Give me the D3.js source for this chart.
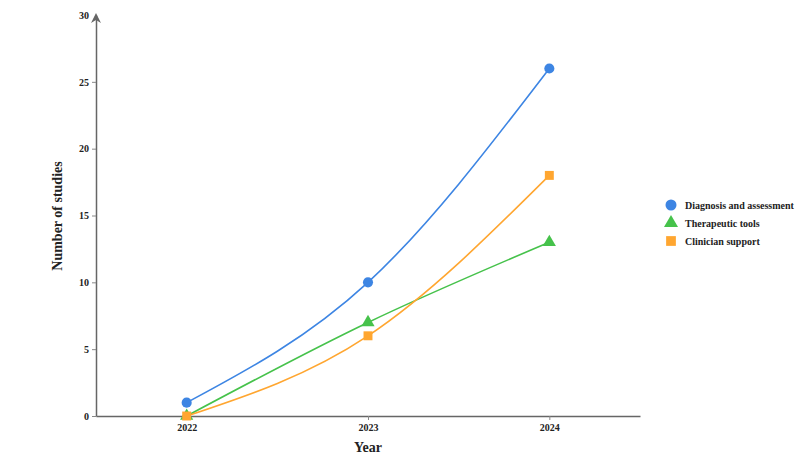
<!DOCTYPE html>
<html><head><meta charset="utf-8">
<script src="https://cdn.jsdelivr.net/npm/d3@7"></script>
<style>body{margin:0;background:#fff}svg{display:block}svg text{font-family:"Liberation Serif","Times New Roman",serif !important;font-weight:bold}</style>
</head><body>
<svg id="c" width="800" height="457"></svg>
<script>
const years = ["2022","2023","2024"];
const seriesNames = ["Diagnosis and assessment","Therapeutic tools","Clinician support"];
const diagnosis = [1,10,26];
const therapeutic = [0,7,13];
const clinician = [0,6,18];
const yTicks = [0,5,10,15,20,25,30];
const colors = ["#3d85e3","#46c24b","#ffa630"];
const symbols = [d3.symbolCircle, d3.symbolTriangle, d3.symbolSquare];
const allSeries = [diagnosis, therapeutic, clinician];

const svg = d3.select("#c");
const x = d3.scalePoint().domain(years).range([96,640]).padding(0.5);
const y = d3.scaleLinear().domain([0,30]).range([416,15]);

// axes
const xAxis = svg.append("g").attr("transform","translate(0,416)")
  .call(d3.axisBottom(x).tickSize(4).tickPadding(4).tickSizeOuter(0));
const yAxis = svg.append("g").attr("transform","translate(96,0)")
  .call(d3.axisLeft(y).tickValues(yTicks).tickSize(4).tickPadding(3).tickSizeOuter(0));
[xAxis,yAxis].forEach(a=>{
  a.attr("font-family",null);
  a.selectAll(".domain").attr("stroke","#666").attr("stroke-width",1.5);
  a.selectAll(".tick line").attr("stroke","#888");
  a.selectAll("text").attr("font-size",10).attr("fill","#222");
});
yAxis.selectAll(".tick").filter(d=>d===30).select("line").remove();
// arrow at top
svg.append("path").attr("d",`M${96},${y(30)-2} l-5,10 l5,-3 l5,3 z`).attr("fill","#666");

// lines
const line = d3.line().x((d,i)=>x(years[i])).y(d=>y(d)).curve(d3.curveMonotoneX);
allSeries.forEach((s,k)=>{
  svg.append("path").datum(s).attr("d",line).attr("fill","none")
    .attr("stroke",colors[k]).attr("stroke-width",1.6);
});
allSeries.forEach((s,k)=>{
  svg.append("g").selectAll("path").data(s).join("path")
    .attr("transform",(d,i)=>`translate(${x(years[i])},${y(d)})`)
    .attr("d",d3.symbol().type(symbols[k]).size(k===1?75:80))
    .attr("fill",colors[k]);
});

// axis titles
svg.append("text").attr("x",x("2023")).attr("y",452).attr("text-anchor","middle")
  .attr("font-size",14).attr("fill","#222").text("Year");
svg.append("text").attr("transform","translate(62,216) rotate(-90)").attr("text-anchor","middle")
  .attr("font-size",14).attr("fill","#222").text("Number of studies");

// legend
const lg = svg.append("g").attr("transform","translate(671,205)");
seriesNames.forEach((n,k)=>{
  const g = lg.append("g").attr("transform",`translate(0,${k*18})`);
  g.append("path").attr("d",d3.symbol().type(symbols[k]).size(k===1?85:95)).attr("fill",colors[k]);
  g.append("text").attr("x",14).attr("y",4).attr("font-size",10).attr("fill","#222").text(n);
});
</script>
</body></html>
